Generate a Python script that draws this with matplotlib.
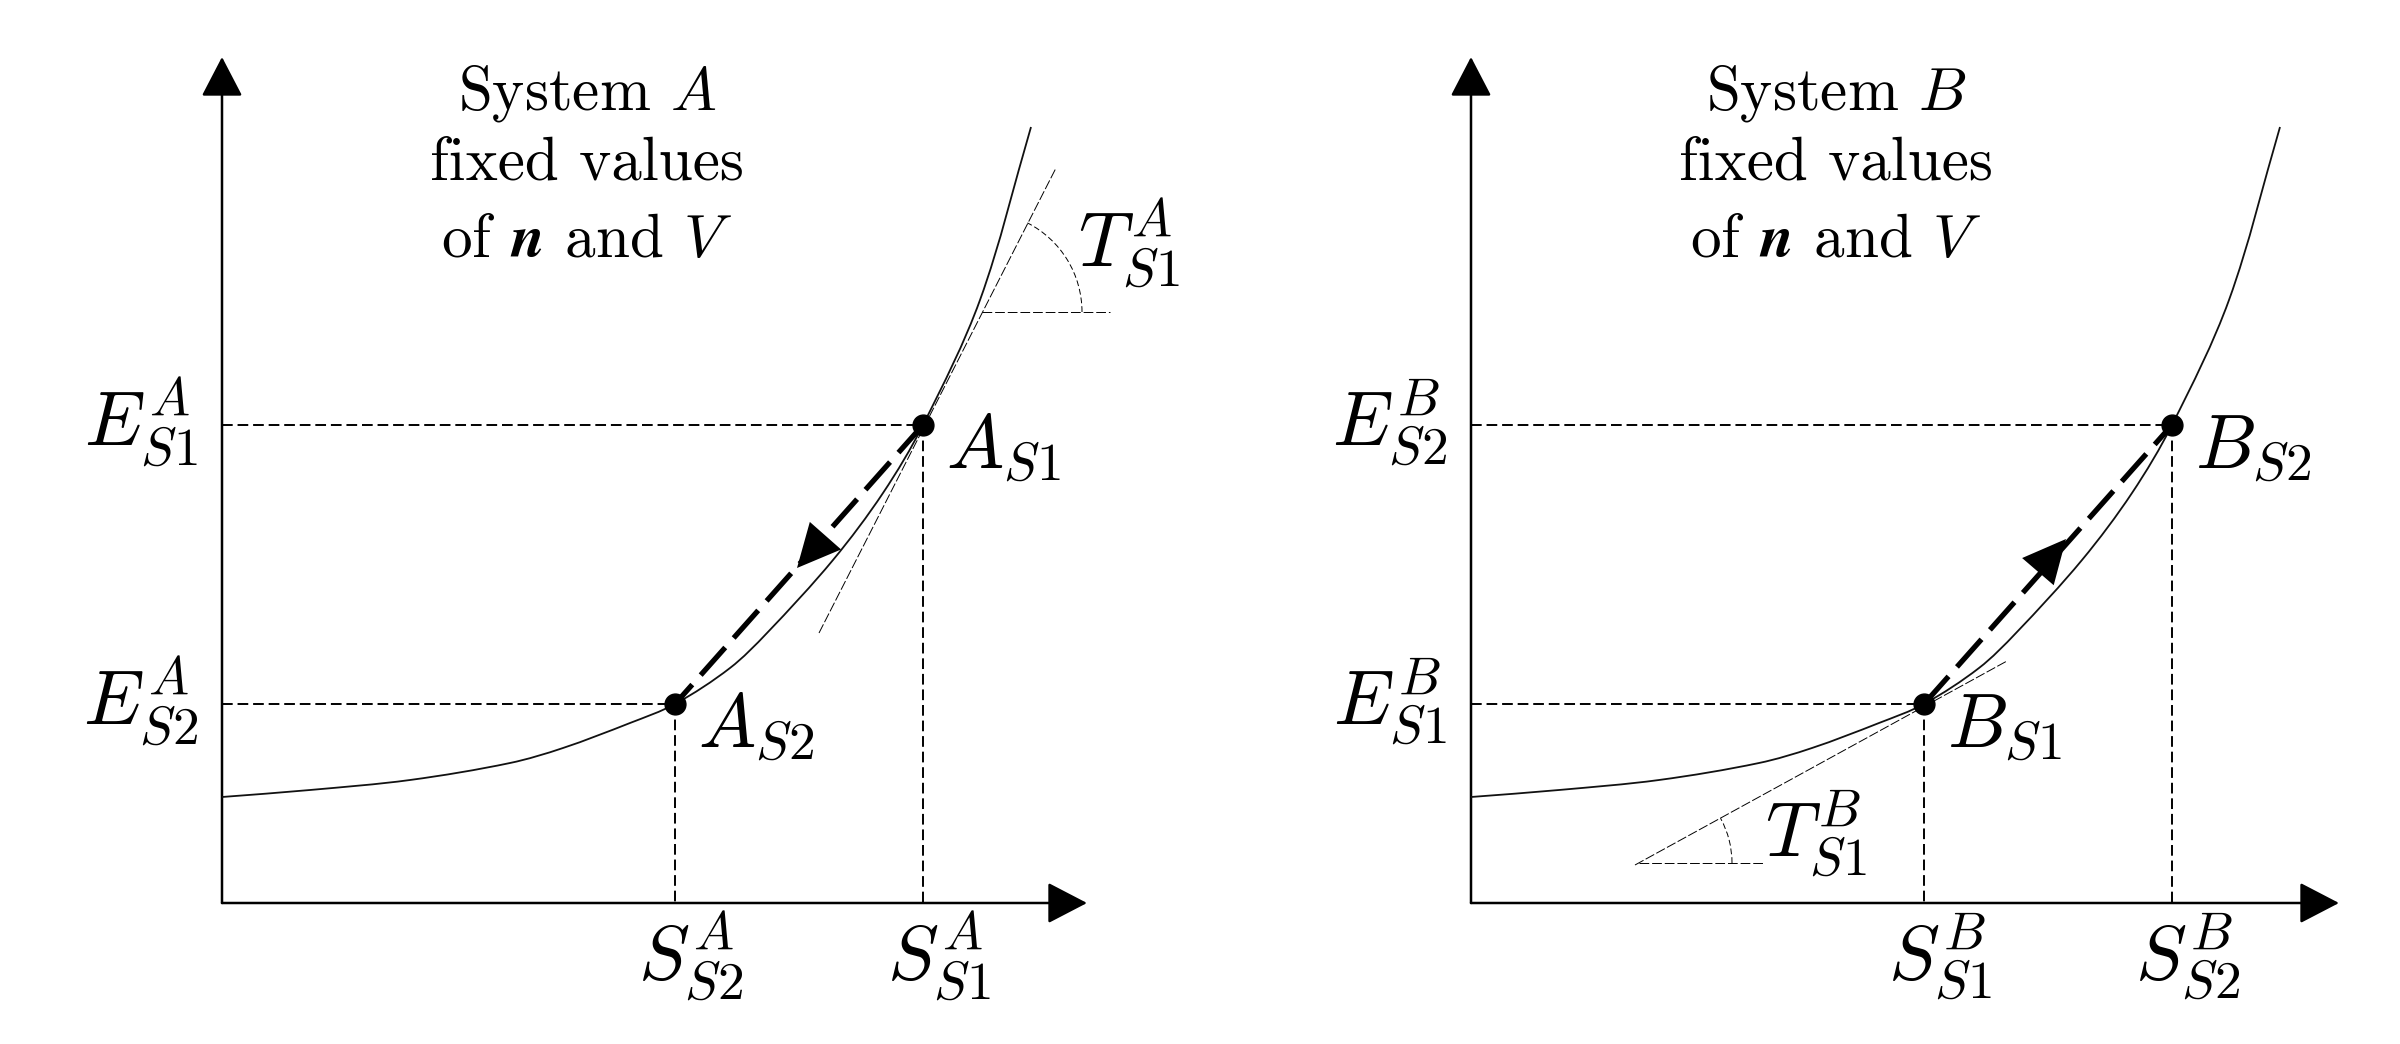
import numpy as np
import matplotlib
matplotlib.use("Agg")
import matplotlib.pyplot as plt
from matplotlib.patches import Arc, PathPatch
from matplotlib.path import Path

plt.rcParams['font.family'] = 'cmr10'
plt.rcParams['mathtext.fontset'] = 'cm'
plt.rcParams['axes.formatter.use_mathtext'] = True

# E(S) curve, same shape in both panels (units ~100 px)
curve_s = [0.00, 0.88, 1.88, 2.88, 3.41, 4.08, 4.53, 5.08, 5.45, 6.11, 6.61, 7.01, 7.58, 8.09]
curve_e = [1.06, 1.13, 1.23, 1.40, 1.55, 1.80, 1.99, 2.35, 2.70, 3.43, 4.10, 4.78, 6.03, 7.76]

# the two states: [upper, lower]
s_points = [7.01, 4.53]
e_points = [4.78, 1.99]

title_a = ["System $A$", "fixed values", r"of $\boldsymbol{n}$ and $V$"]
title_b = ["System $B$", "fixed values", r"of $\boldsymbol{n}$ and $V$"]
point_labels_a = [r"$A_{S1}$", r"$A_{S2}$"]
point_labels_b = [r"$B_{S2}$", r"$B_{S1}$"]
e_labels_a = [r"$E^{A}_{S1}$", r"$E^{A}_{S2}$"]
e_labels_b = [r"$E^{B}_{S2}$", r"$E^{B}_{S1}$"]
s_labels_a = [r"$S^{A}_{S1}$", r"$S^{A}_{S2}$"]
s_labels_b = [r"$S^{B}_{S2}$", r"$S^{B}_{S1}$"]

# process arrow: A goes upper -> lower, B goes lower -> upper
arrow_tip_a = (5.75, 3.35)
arrow_tip_b = (5.95, 3.64)

# temperature tangents (end points), angle vertex, horizontal end, arc radius
tangent_a_s = [5.97, 8.34]
tangent_a_e = [2.70, 7.35]
vertex_a = (7.60, 5.91)
h_end_a = 8.88
radius_a = 1.0
tangent_b_s = [1.64, 5.36]
tangent_b_e = [0.38, 2.42]
vertex_b = (1.68, 0.40)
h_end_b = 2.92
radius_b = 0.93

t_label_a = r"$T^{A}_{S1}$"
t_label_b = r"$T^{B}_{S1}$"
t_pos_a = (8.56, 6.36)
t_pos_b = (2.94, 0.46)

thin = dict(color='k', lw=0.7, ls=(0, (10, 2.5)))
LABEL_SIZE = 55


def smooth_path(xs, ys):
    # draw the read points as one smooth bezier path (chord-length hermite handles)
    p = np.column_stack([xs, ys])
    n = len(p)
    seg = np.hypot(*np.diff(p, axis=0).T)
    t = np.concatenate([[0], np.cumsum(seg)])
    tang = np.zeros_like(p)
    for i in range(n):
        a, b = max(i - 1, 0), min(i + 1, n - 1)
        tang[i] = (p[b] - p[a]) / (t[b] - t[a])
    verts = [p[0]]
    codes = [Path.MOVETO]
    for i in range(n - 1):
        h = seg[i] / 3
        verts += [p[i] + tang[i] * h, p[i + 1] - tang[i + 1] * h, p[i + 1]]
        codes += [Path.CURVE4] * 3
    return Path(verts, codes)


def draw_panel(ax, titles, p_labels, e_labels, s_labels, start, end, tip,
               tan_s, tan_e, vertex, h_end, radius, t_label, t_pos, x_tip):
    ax.axis('off')
    # axes with arrows
    head = '-|>,head_length=2.5,head_width=1.3'
    ax.annotate('', xy=(0, 8.46), xytext=(0, 0),
                arrowprops=dict(arrowstyle=head, mutation_scale=10, lw=1.8,
                                color='k', shrinkA=0, shrinkB=0))
    ax.annotate('', xy=(x_tip, 0), xytext=(0, 0),
                arrowprops=dict(arrowstyle=head, mutation_scale=10, lw=1.8,
                                color='k', shrinkA=0, shrinkB=0))

    ax.add_patch(PathPatch(smooth_path(curve_s, curve_e), fill=False,
                           edgecolor='#111111', lw=1.3, zorder=3))

    # guide lines
    for s, e in zip(s_points, e_points):
        ax.plot([0, s], [e, e], color='k', lw=1.4, ls=(0, (5.5, 2.5)))
        ax.plot([s, s], [e, 0], color='k', lw=1.4, ls=(0, (5.5, 2.5)))

    # tangent + angle
    ax.plot(tan_s, tan_e, **thin)
    ax.plot([vertex[0], h_end], [vertex[1], vertex[1]], color='k', lw=0.7,
            ls=(0, (10, 3)))
    ang = np.degrees(np.arctan2(tan_e[1] - tan_e[0], tan_s[1] - tan_s[0]))
    ax.add_patch(Arc(vertex, 2 * radius, 2 * radius, theta1=0, theta2=ang,
                     color='k', lw=0.7, ls=(0, (6, 3))))
    ax.text(t_pos[0], t_pos[1], t_label, fontsize=LABEL_SIZE, ha='left',
            va='baseline')

    # process arrow
    ax.plot([start[0], end[0]], [start[1], end[1]], color='k', lw=3.8,
            ls=(0, (7.0, 2.4)), zorder=4)
    ax.annotate('', xy=tip, xytext=start,
                arrowprops=dict(arrowstyle='-|>,head_length=3.1,head_width=1.5',
                                mutation_scale=10, lw=0, color='k',
                                shrinkA=0, shrinkB=0), zorder=6)

    ax.plot(s_points, e_points, 'o', ms=15, color='k', zorder=5)

    # labels
    for s, e, pl, el, sl in zip(s_points, e_points, p_labels, e_labels, s_labels):
        ax.text(s + 0.23, e - 0.44, pl, fontsize=LABEL_SIZE, ha='left', va='baseline')
        ax.text(-0.24, e - 0.21, el, fontsize=LABEL_SIZE, ha='right', va='baseline')
        ax.text(s + 0.16, -0.77, sl, fontsize=LABEL_SIZE, ha='center', va='baseline')

    for y, line in zip([7.93, 7.23, 6.46], titles):
        ax.text(3.65, y, line, fontsize=44, ha='center', va='baseline')


fig = plt.figure(figsize=(24, 10.44), dpi=100)
ax_a = fig.add_axes([0, 0, 0.5, 1])
ax_b = fig.add_axes([0.5, 0, 0.5, 1])
ax_a.set_xlim(-2.22, 9.78)
ax_b.set_xlim(-2.71, 9.29)
for ax in (ax_a, ax_b):
    ax.set_ylim(-1.41, 9.03)

upper = (s_points[0], e_points[0])
lower = (s_points[1], e_points[1])

draw_panel(ax_a, title_a, point_labels_a, e_labels_a, s_labels_a,
           upper, lower, arrow_tip_a, tangent_a_s, tangent_a_e, vertex_a,
           h_end_a, radius_a, t_label_a, t_pos_a, 8.65)
draw_panel(ax_b, title_b, point_labels_b, e_labels_b, s_labels_b,
           lower, upper, arrow_tip_b, tangent_b_s, tangent_b_e, vertex_b,
           h_end_b, radius_b, t_label_b, t_pos_b, 8.68)

fig.savefig('out.png', dpi=100)
